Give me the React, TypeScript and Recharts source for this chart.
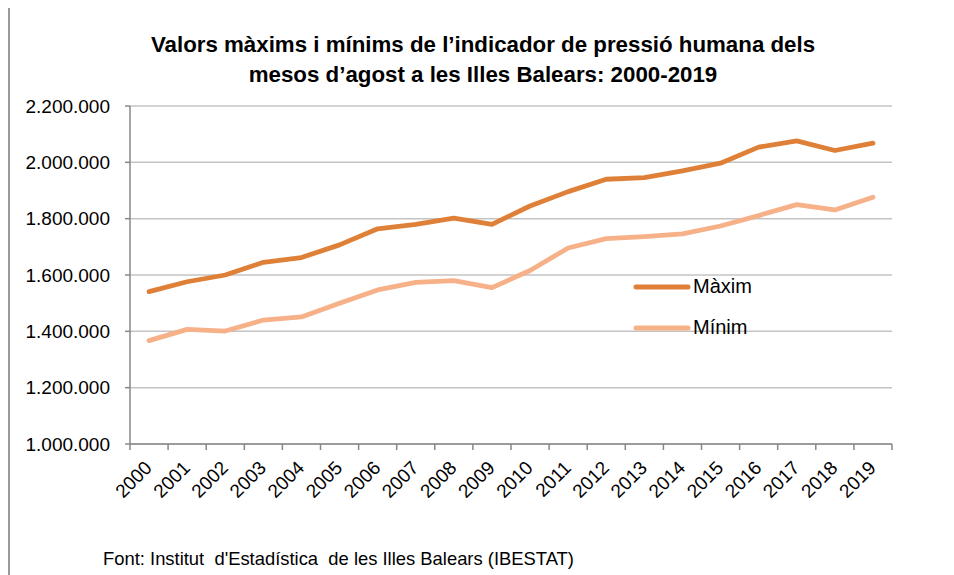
import { LineChart, Line, XAxis, YAxis, CartesianGrid, Legend } from 'recharts';

const years = ['2000', '2001', '2002', '2003', '2004', '2005', '2006', '2007', '2008', '2009',
  '2010', '2011', '2012', '2013', '2014', '2015', '2016', '2017', '2018', '2019'];

const maxim = [1541000, 1576000, 1600000, 1645000, 1662000, 1707000, 1764000, 1780000, 1802000, 1780000,
  1845000, 1896000, 1940000, 1946000, 1970000, 1997000, 2054000, 2076000, 2042000, 2068000];

const minim = [1367000, 1407000, 1401000, 1440000, 1451000, 1500000, 1547000, 1574000, 1580000, 1555000,
  1616000, 1696000, 1729000, 1736000, 1746000, 1774000, 1811000, 1850000, 1831000, 1876000];

const yTicks = [1000000, 1200000, 1400000, 1600000, 1800000, 2000000, 2200000];

const data = years.map((year, i) => ({ year, maxim: maxim[i], minim: minim[i] }));

const MAX_COLOR = '#DF8038';
const MIN_COLOR = '#F7B189';
const FONT = '"Liberation Sans", Arial, sans-serif';

// thousands with dots, like the original
const fmt = (v: number) => String(v).replace(/\B(?=(\d{3})+(?!\d))/g, '.');

// width of one category slot (plot width / 20)
const BAND = 762 / 20;

function YearTick(props: any) {
  const { x, y, payload, index } = props;
  return (
    <g transform={`translate(${x}, ${y})`}>
      <line x1={-BAND / 2} y1={0} x2={-BAND / 2} y2={6} stroke="#888" strokeWidth={1.5} />
      {index === years.length - 1 && (
        <line x1={BAND / 2} y1={0} x2={BAND / 2} y2={6} stroke="#888" strokeWidth={1.5} />
      )}
      <g transform="translate(4, 25)">
        <text x={0} y={0} textAnchor="end" transform="rotate(-45)" fontSize={19} fontFamily={FONT} fill="#000">
          {payload.value}
        </text>
      </g>
    </g>
  );
}

function LegendBox() {
  const items = [
    { label: 'Màxim', color: MAX_COLOR },
    { label: 'Mínim', color: MIN_COLOR },
  ];
  return (
    <div>
      {items.map((it) => (
        <div key={it.label} style={{ display: 'flex', alignItems: 'center', height: 41 }}>
          <svg width={58} height={10}>
            <line x1={3} y1={5} x2={55} y2={5} stroke={it.color} strokeWidth={5} strokeLinecap="round" />
          </svg>
          <span style={{ fontFamily: FONT, fontSize: 20, color: '#000', marginLeft: 2 }}>{it.label}</span>
        </div>
      ))}
    </div>
  );
}

export default function App() {
  return (
    <div
      style={{
        position: 'relative',
        width: 946,
        height: 569,
        marginTop: -2,
        borderTop: '2px solid #999',
        borderLeft: '2px solid #999',
        boxSizing: 'border-box',
        background: '#fff',
      }}
    >
      <div
        style={{
          position: 'absolute',
          left: 0,
          top: 22,
          width: 946,
          textAlign: 'center',
          fontFamily: FONT,
          fontWeight: 'bold',
          fontSize: 22.3,
          lineHeight: '30px',
          color: '#000',
        }}
      >
        Valors màxims i mínims de l’indicador de pressió humana dels
        <br />
        mesos d’agost a les Illes Balears: 2000-2019
      </div>

      <LineChart
        width={944}
        height={567}
        data={data}
        margin={{ top: 98, right: 62, left: 0, bottom: 0 }}
        style={{ position: 'absolute', left: 0, top: 0 }}
      >
        <CartesianGrid vertical={false} stroke="#C4C4C4" strokeWidth={1.5} />
        <XAxis
          dataKey="year"
          interval={0}
          tickLine={false}
          tickSize={0}
          tickMargin={0}
          padding={{ left: BAND / 2, right: BAND / 2 }}
          axisLine={{ stroke: '#888', strokeWidth: 1.5 }}
          tick={<YearTick />}
          height={131}
        />
        <YAxis
          width={120}
          domain={[1000000, 2200000]}
          ticks={yTicks}
          tickFormatter={fmt}
          tickSize={5}
          tickMargin={15}
          axisLine={{ stroke: '#888', strokeWidth: 1.5 }}
          tickLine={{ stroke: '#888', strokeWidth: 1.5 }}
          tick={{ fontSize: 19, fontFamily: FONT, fill: '#000' }}
        />
        <Legend
          layout="vertical"
          align="center"
          verticalAlign="middle"
          content={<LegendBox />}
          wrapperStyle={{ left: 623, top: 258, width: 200 }}
        />
        <Line
          type="linear"
          dataKey="maxim"
          name="Màxim"
          stroke={MAX_COLOR}
          strokeWidth={4.8}
          strokeLinecap="round"
          strokeLinejoin="round"
          dot={false}
          isAnimationActive={false}
        />
        <Line
          type="linear"
          dataKey="minim"
          name="Mínim"
          stroke={MIN_COLOR}
          strokeWidth={4.8}
          strokeLinecap="round"
          strokeLinejoin="round"
          dot={false}
          isAnimationActive={false}
        />
      </LineChart>

      <div
        style={{
          position: 'absolute',
          left: 93,
          top: 540,
          fontFamily: FONT,
          fontSize: 18.4,
          color: '#000',
          whiteSpace: 'pre',
        }}
      >
        {"Font: Institut  d'Estadística  de les Illes Balears (IBESTAT)"}
      </div>
    </div>
  );
}
